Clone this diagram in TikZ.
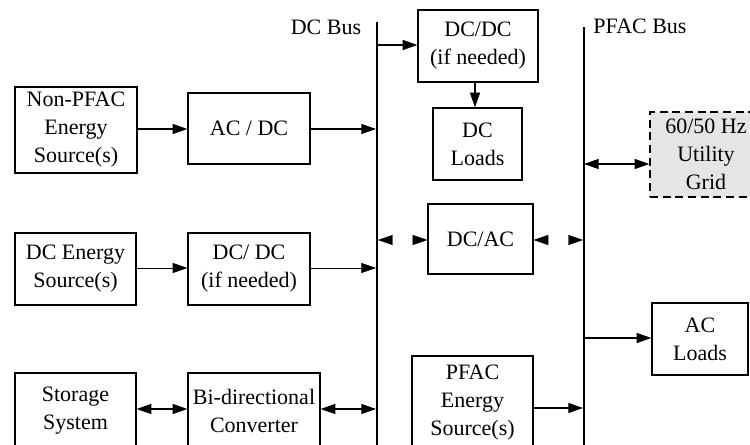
\documentclass[tikz,border=0pt]{standalone}
\usepackage{fontspec}
\setmainfont{Liberation Serif}
\usetikzlibrary{arrows.meta}
\begin{document}
\begin{tikzpicture}[x=0.75pt,y=-0.75pt,
  box/.style={draw,line width=0.9pt,align=center,inner sep=1pt,
    font=\fontsize{16.5}{21}\selectfont},
  bus/.style={line width=2.2pt},
  conn/.style={line width=0.9pt,-{Triangle[length=11pt,width=7.5pt]}},
  thinconn/.style={line width=0.5pt,-{Triangle[length=11pt,width=7.5pt]}},
  biconn/.style={line width=0.9pt,{Triangle[length=11pt,width=7.5pt]}-{Triangle[length=11pt,width=7.5pt]}},
  gapconn/.style={line width=0.3pt,draw=white,{Triangle[length=11pt,width=7.5pt,black]}-{Triangle[length=11pt,width=7.5pt,black]}},
  lbl/.style={font=\fontsize{16.5}{21}\selectfont}]
\useasboundingbox (0,0) rectangle (750,445);
\clip (0,0) rectangle (750,445);
% buses
\coordinate (dctop) at (377,22);
\coordinate (dcbot) at (377,450);
\coordinate (actop) at (584,27);
\coordinate (acbot) at (584,450);
\draw[bus] (dctop) -- (dcbot);
\draw[bus] (actop) -- (acbot);
\node[lbl] (dclbl) at (326,27) {DC Bus};
\node[lbl] (aclbl) at (640,26) {PFAC Bus};
% boxes
\node[box,minimum width=91.5pt,minimum height=64.5pt] (nonpfac) at (76,130) {Non-PFAC\\Energy\\Source(s)};
\node[box,minimum width=91.5pt,minimum height=53.25pt] (acdc) at (249,128.5) {AC / DC};
\node[box,minimum width=90.75pt,minimum height=54pt] (dcsrc) at (75.5,269) {DC Energy\\Source(s)};
\node[box,minimum width=91.5pt,minimum height=54pt] (dcdc1) at (249,269) {DC/ DC\\(if needed)};
\node[box,minimum width=90.75pt,minimum height=57pt] (storage) at (75.5,411) {Storage\\System};
\node[box,minimum width=99pt,minimum height=57pt,inner sep=0pt] (biconv) at (254,411) {Bi-directional\\Converter};
\node[box,minimum width=90pt,minimum height=54pt] (dcdc2) at (478,46) {DC/DC\\(if needed)};
\node[box,minimum width=66.75pt,minimum height=54pt] (dcloads) at (477.5,144) {DC\\Loads};
\node[box,minimum width=78.75pt,minimum height=52.5pt] (dcac) at (480.5,239) {DC/AC};
\node[box,minimum width=90.75pt,minimum height=69.75pt] (pfacsrc) at (472.5,402.5) {PFAC\\Energy\\Source(s)};
\node[box,line width=1.1pt,dash pattern=on 6pt off 3.5pt,fill=gray!20,minimum width=84pt,minimum height=63.75pt] (grid) at (706,154.5) {60/50 Hz\\Utility\\Grid};
\node[box,minimum width=72pt,minimum height=54pt] (acloads) at (700,339) {AC\\Loads};
% bus taps
\coordinate (t1) at (376,129);
\coordinate (t2) at (376,268);
\coordinate (t3) at (376,409);
\coordinate (t4) at (377,45);
\coordinate (t5) at (378,240);
\coordinate (t6) at (583,240);
\coordinate (t7) at (584,164);
\coordinate (t8) at (584,338);
\coordinate (t9) at (583,408);
% connectors
\draw[conn] (nonpfac.east |- t1) -- (acdc.west |- t1);
\draw[conn] (acdc.east |- t1) -- (t1);
\draw[thinconn] (dcsrc.east |- t2) -- (dcdc1.west |- t2);
\draw[thinconn] (dcdc1.east |- t2) -- (t2);
\draw[biconn] (storage.east |- t3) -- (biconv.west |- t3);
\draw[biconn] (biconv.east |- t3) -- (t3);
\draw[conn] (t4) -- (dcdc2.west |- t4);
\draw[conn] (dcdc2.south -| 475,0) -- (dcloads.north -| 475,0);
\draw[gapconn] (t5) -- (dcac.west |- t5);
\draw[gapconn] (dcac.east |- t6) -- (t6);
\draw[biconn] (t7) -- (grid.west |- t7);
\draw[conn] (t8) -- (acloads.west |- t8);
\draw[conn] (pfacsrc.east |- t9) -- (t9);
\end{tikzpicture}
\end{document}
